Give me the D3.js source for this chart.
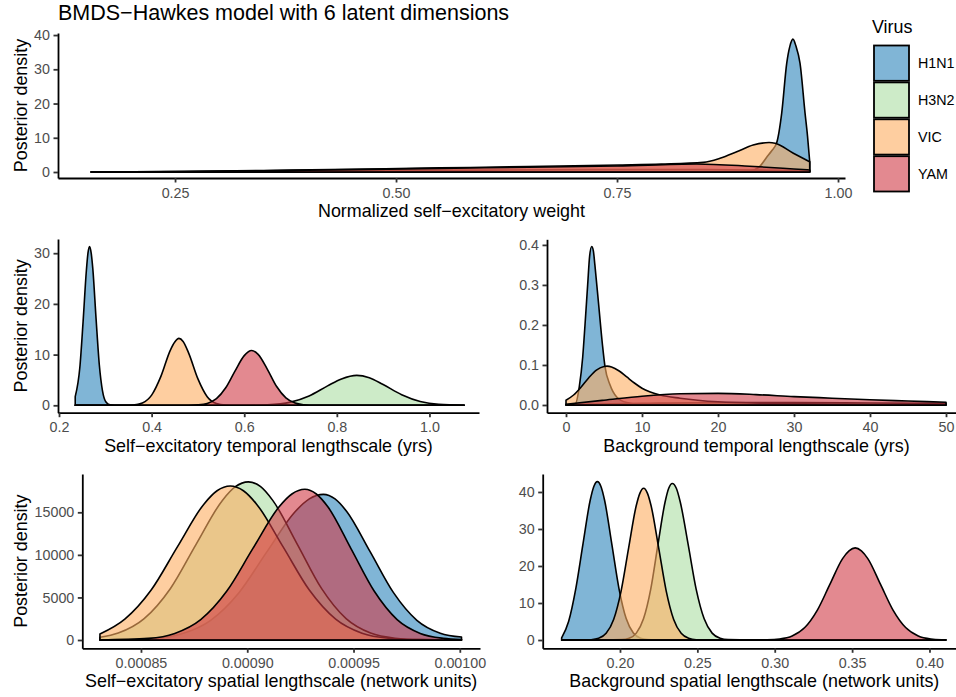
<!DOCTYPE html>
<html><head><meta charset="utf-8">
<script src="https://cdn.jsdelivr.net/npm/d3@7"></script>
<style>body{margin:0;background:#fff;} text{font-family:"Liberation Sans",Arial,Helvetica,sans-serif;}</style>
</head><body><svg id="chart" width="956" height="697"></svg>
<script>
const viruses = ["H1N1","H3N2","VIC","YAM"];
const virusColors = ["#2b83ba","#abdda4","#fdae61","#d03a46"];

// Normalized self-excitatory weight
const weightH1N1 = [[0.155,0],[0.85,0],[0.89,0.05],[0.90,0.3],[0.911,1.5],[0.9193,4.3],[0.925,6.2],[0.9307,8.6],[0.9363,17.2],[0.942,31.8],[0.9455,36.7],[0.949,38.8],[0.9525,36.7],[0.957,31.8],[0.9627,17.2],[0.9655,10.5],[0.968,3.0]];
const weightH3N2 = [[0.155,0],[0.3,0.15],[0.45,0.35],[0.6,0.55],[0.75,0.7],[0.85,0.7],[0.93,0.5],[0.968,0.35]];
const weightVIC  = [[0.155,0.02],[0.25,0.15],[0.35,0.45],[0.45,0.8],[0.55,1.2],[0.65,1.6],[0.7534,2.05],[0.8,2.3],[0.8476,2.8],[0.8665,4.0],[0.8854,5.9],[0.904,7.9],[0.922,8.6],[0.9288,8.4],[0.9495,5.5],[0.968,3.0]];
const weightYAM  = [[0.155,0],[0.25,0.1],[0.35,0.35],[0.45,0.7],[0.55,1.05],[0.65,1.4],[0.75,1.75],[0.84,2.35],[0.9,1.7],[0.95,0.9],[0.968,0.6]];

// Self-excitatory temporal lengthscale
const tempH1N1 = [[0.235,1.7],[0.245,7.5],[0.252,16.5],[0.259,26.5],[0.2625,30.0],[0.266,31.3],[0.2695,30.0],[0.273,26.9],[0.280,17.1],[0.287,8.0],[0.294,2.8],[0.301,0.7],[0.31,0.1],[0.33,0],[1.075,0]];
const tempH3N2 = [[0.235,0],[0.6,0],[0.65,0.1],[0.70,0.63],[0.74,1.85],[0.78,3.83],[0.81,5.2],[0.843,5.9],[0.87,5.45],[0.90,4.1],[0.94,2.1],[0.98,0.76],[1.02,0.19],[1.075,0.02]];
const tempVIC  = [[0.235,0],[0.34,0],[0.36,0.05],[0.38,0.45],[0.40,2.0],[0.42,5.7],[0.44,10.8],[0.45,12.5],[0.459,13.2],[0.468,12.6],[0.48,10.3],[0.50,5.2],[0.52,1.7],[0.54,0.36],[0.56,0.05],[0.58,0],[1.075,0]];
const tempYAM  = [[0.235,0],[0.48,0],[0.50,0.08],[0.52,0.37],[0.54,1.3],[0.56,3.45],[0.58,6.75],[0.60,9.8],[0.616,10.8],[0.63,10.05],[0.65,7.1],[0.67,3.7],[0.69,1.46],[0.71,0.43],[0.73,0.1],[0.75,0],[1.075,0]];

// Background temporal lengthscale
const bgTempH1N1 = [[0,0],[1.2,0.002],[1.75,0.046],[2.2,0.12],[2.5,0.2],[2.85,0.3],[3.1,0.37],[3.38,0.396],[3.6,0.385],[3.8,0.35],[4.3,0.25],[4.8,0.15],[5.13,0.096],[5.8,0.05],[6.67,0.02],[8,0.006],[10,0.001],[15,0],[50,0]];
const bgTempH3N2 = [[0,0.001],[10,0.004],[20,0.006],[30,0.006],[40,0.005],[50,0.004]];
const bgTempVIC  = [[0,0.012],[1,0.025],[2,0.045],[3,0.068],[4,0.087],[5,0.096],[5.4,0.097],[6,0.095],[7,0.085],[8,0.07],[9,0.055],[10,0.042],[11,0.033],[12.4,0.025],[15,0.017],[20,0.008],[27,0.004],[35,0.002],[50,0]];
const bgTempYAM  = [[0,0.002],[5,0.012],[10,0.022],[15,0.028],[20,0.029],[25,0.026],[30,0.021],[35,0.017],[40,0.013],[45,0.01],[50,0.007]];

// Self-excitatory spatial lengthscale
const spatH1N1 = [[0.0008307,6],[0.0008563,190],[0.0008696,751],[0.0008828,2315],[0.0008961,5560],[0.0009093,10380],[0.0009226,15100],[0.0009292,16580],[0.0009358,17110],[0.0009413,16580],[0.0009468,15100],[0.0009578,10380],[0.0009688,5560],[0.0009798,2315],[0.0009908,800],[0.0010008,350]];
const spatH3N2 = [[0.0008307,320],[0.0008393,815],[0.0008515,2510],[0.0008638,6030],[0.000876,11270],[0.0008883,16400],[0.0008944,18010],[0.0009005,18580],[0.0009063,18010],[0.000912,16400],[0.0009235,11270],[0.000935,6030],[0.0009465,2510],[0.000958,815],[0.0009695,206],[0.000981,41],[0.0010008,2]];
const spatVIC  = [[0.0008307,700],[0.0008424,2450],[0.0008548,5870],[0.0008672,10970],[0.0008796,15960],[0.0008858,17530],[0.000892,18090],[0.0008982,17530],[0.0009044,15960],[0.0009168,10970],[0.0009292,5870],[0.0009416,2450],[0.000954,795],[0.0009664,200],[0.0009788,40],[0.0010008,0]];
const spatYAM  = [[0.0008307,8],[0.0008536,196],[0.0008659,777],[0.0008781,2395],[0.0008904,5750],[0.0009026,10730],[0.0009149,15620],[0.000921,17150],[0.0009271,17700],[0.0009325,17150],[0.000938,15620],[0.0009488,10730],[0.0009597,5750],[0.0009705,2395],[0.0009814,777],[0.0009922,196],[0.0010008,55]];

// Background spatial lengthscale
const bgSpatH1N1 = [[0.1623,0.6],[0.1668,5.0],[0.17145,13.9],[0.1761,25.96],[0.18075,37.77],[0.1831,41.5],[0.1854,42.8],[0.1877,41.5],[0.19005,37.77],[0.1947,25.96],[0.19935,13.9],[0.2040,5.79],[0.20865,1.88],[0.2133,0.475],[0.21795,0.094],[0.2226,0.014],[0.24,0],[0.4106,0]];
const bgSpatH3N2 = [[0.1623,0],[0.19,0],[0.20125,0.093],[0.2059,0.47],[0.21055,1.86],[0.2152,5.72],[0.21985,13.7],[0.2245,25.7],[0.22915,37.3],[0.2315,41.0],[0.2338,42.3],[0.2364,41.0],[0.23895,37.3],[0.2441,25.7],[0.24925,13.7],[0.2544,5.72],[0.25955,1.86],[0.2647,0.47],[0.26985,0.093],[0.285,0],[0.4106,0]];
const bgSpatVIC  = [[0.1623,0],[0.175,0],[0.18135,0.09],[0.1862,0.455],[0.19105,1.8],[0.1959,5.55],[0.20075,13.3],[0.2056,24.9],[0.21045,36.2],[0.2129,39.7],[0.2153,41.0],[0.2177,39.7],[0.22015,36.2],[0.2250,24.9],[0.22985,13.3],[0.2347,5.55],[0.23955,1.8],[0.2444,0.455],[0.24925,0.09],[0.26,0],[0.4106,0]];
const bgSpatYAM  = [[0.1623,0],[0.27,0],[0.2868,0.008],[0.29495,0.055],[0.3031,0.276],[0.31125,1.09],[0.3194,3.37],[0.32755,8.09],[0.3357,15.1],[0.34385,22.0],[0.348,24.1],[0.352,24.9],[0.356,24.1],[0.36015,22.0],[0.3683,15.1],[0.37645,8.09],[0.3846,3.37],[0.39275,1.09],[0.4009,0.276],[0.40905,0.055],[0.4106,0.03]];

// Tick values
const weightXTicks = [0.25,0.50,0.75,1.00];
const weightYTicks = [0,10,20,30,40];
const tempXTicks = [0.2,0.4,0.6,0.8,1.0];
const tempYTicks = [0,10,20,30];
const bgTempXTicks = [0,10,20,30,40,50];
const bgTempYTicks = [0.0,0.1,0.2,0.3,0.4];
const spatXTicks = [0.00085,0.00090,0.00095,0.00100];
const spatYTicks = [0,5000,10000,15000];
const bgSpatXTicks = [0.20,0.25,0.30,0.35,0.40];
const bgSpatYTicks = [0,10,20,30,40];

const chartTitle = "BMDS\u2212Hawkes model with 6 latent dimensions";
const yLabel = "Posterior density";

const panels = [
  {series:[weightH1N1,weightH3N2,weightVIC,weightYAM], xDomain:[0.1176,1.0079], xRange:[58,845], yDomain:[-1.75,40.6], yRange:[178,33],
   xTicks:weightXTicks, xFmt:".2f", yTicks:weightYTicks, yFmt:"d", xTitle:"Normalized self\u2212excitatory weight", yTitle:true},
  {series:[tempH1N1,tempH3N2,tempVIC,tempYAM], xDomain:[0.1978,1.107], xRange:[58,479], yDomain:[-1.46,32.8], yRange:[412.7,239],
   xTicks:tempXTicks, xFmt:".1f", yTicks:tempYTicks, yFmt:"d", xTitle:"Self\u2212excitatory temporal lengthscale (yrs)", yTitle:true},
  {series:[bgTempH1N1,bgTempH3N2,bgTempVIC,bgTempYAM], xDomain:[-2.5,52.63], xRange:[547,966], yDomain:[-0.01925,0.414], yRange:[412.7,239.3],
   xTicks:bgTempXTicks, xFmt:"d", yTicks:bgTempYTicks, yFmt:".1f", xTitle:"Background temporal lengthscale (yrs)", yTitle:false},
  {series:[spatH1N1,spatH3N2,spatVIC,spatYAM], xDomain:[0.0008224,0.0010095], xRange:[82.3,480], yDomain:[-975,19500], yRange:[648.3,474],
   xTicks:spatXTicks, xFmt:".5f", yTicks:spatYTicks, yFmt:"d", xTitle:"Self\u2212excitatory spatial lengthscale (network units)", yTitle:true},
  {series:[bgSpatH1N1,bgSpatH3N2,bgSpatVIC,bgSpatYAM], xDomain:[0.15006,0.4236], xRange:[542.7,966], yDomain:[-2.24,44.86], yRange:[648.3,474],
   xTicks:bgSpatXTicks, xFmt:".2f", yTicks:bgSpatYTicks, yFmt:"d", xTitle:"Background spatial lengthscale (network units)", yTitle:false}
];

const svg = d3.select("#chart");
const AXW = 1.8, CURW = 1.6;

panels.forEach(p => {
  const x = d3.scaleLinear().domain(p.xDomain).range(p.xRange);
  const y = d3.scaleLinear().domain(p.yDomain).range(p.yRange);
  const g = svg.append("g");
  const area = d3.area().x(d => x(d[0])).y0(y(0)).y1(d => y(d[1])).curve(d3.curveMonotoneX);
  p.series.forEach((s, i) => {
    g.append("path").attr("d", area(s))
      .attr("fill", virusColors[i]).attr("fill-opacity", 0.6)
      .attr("stroke", "#000").attr("stroke-width", CURW).attr("stroke-linejoin", "round");
  });
  const xa = g.append("g").attr("transform", `translate(0,${p.yRange[0]})`)
    .call(d3.axisBottom(x).tickValues(p.xTicks).tickFormat(d3.format(p.xFmt)).tickSize(4.5).tickSizeOuter(0).tickPadding(5));
  const ya = g.append("g").attr("transform", `translate(${p.xRange[0]},0)`)
    .call(d3.axisLeft(y).tickValues(p.yTicks).tickFormat(d3.format(p.yFmt)).tickSize(4.5).tickSizeOuter(0).tickPadding(3.5));
  [xa, ya].forEach(a => {
    a.select(".domain").attr("stroke", "#000").attr("stroke-width", AXW);
    a.selectAll(".tick line").attr("stroke", "#333").attr("stroke-width", AXW);
    a.selectAll(".tick text").attr("fill", "#4d4d4d").style("font-size", "14.3px")
      .style("font-family", "'Liberation Sans', Arial, sans-serif");
  });
  g.append("text").attr("x", (p.xRange[0] + p.xRange[1]) / 2).attr("y", p.yRange[0] + 39)
    .attr("text-anchor", "middle").style("font-size", "17.9px").attr("fill", "#000").text(p.xTitle);
  if (p.yTitle) {
    g.append("text").attr("transform", `translate(27,${(p.yRange[0] + p.yRange[1]) / 2}) rotate(-90)`)
      .attr("text-anchor", "middle").style("font-size", "17.9px").attr("fill", "#000").text(yLabel);
  }
});

svg.append("text").attr("x", 58).attr("y", 20).style("font-size", "21.5px").attr("fill", "#000").text(chartTitle);

// Legend
const leg = svg.append("g");
leg.append("text").attr("x", 872).attr("y", 33).style("font-size", "17.9px").attr("fill", "#000").text("Virus");
viruses.forEach((v, i) => {
  const top = 45.5 + i * 36.9;
  leg.append("rect").attr("x", 874).attr("y", top).attr("width", 35).attr("height", 35.3)
    .attr("fill", virusColors[i]).attr("fill-opacity", 0.6).attr("stroke", "#000").attr("stroke-width", 1.8);
  leg.append("text").attr("x", 918).attr("y", top + 17.6).attr("dy", "0.36em")
    .style("font-size", "14.3px").attr("fill", "#000").text(v);
});
</script>
</body></html>
